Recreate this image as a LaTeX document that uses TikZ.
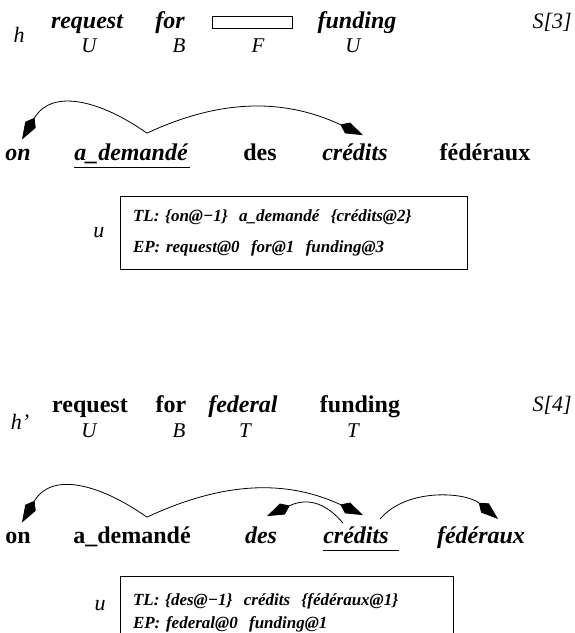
\documentclass[tikz,border=0pt]{standalone}
\usepackage{fontspec}
\setmainfont{Liberation Serif}
\usetikzlibrary{positioning}
\usetikzlibrary{arrows.meta,calc}

\begin{document}
\begin{tikzpicture}[x=1pt,y=1pt,
        wrd/.style={inner sep=0pt, anchor=base, font=\fontsize{24}{28}\selectfont\bfseries},
        iwrd/.style={wrd, font=\fontsize{24}{28}\selectfont\bfseries\itshape},
        lab/.style={inner sep=0pt, anchor=base, font=\fontsize{21}{25}\selectfont\itshape},
        tag/.style={lab, font=\fontsize{22}{26}\selectfont\itshape},
        dep/.style={line width=0.8pt, -{Kite[length=25pt,width=12pt,inset=8pt]}},
        unit/.style={draw, line width=0.8pt, minimum height=73pt,
            inner xsep=13pt, text width=321pt, align=left,
            font=\fontsize{17}{31}\selectfont\bfseries\itshape},]

    \clip (0,0) rectangle (574,-633);

    % hypothesis h, state S[3]
    \node[tag] (h1) at (19,-42) {h};
    \node[iwrd] (req1) at (87,-28) {request};
    \node[iwrd] (for1) at (170,-28) {for};
    \node[draw, line width=0.8pt, minimum width=80pt, minimum height=12pt, inner sep=0pt] (gap1) at (252,-22) {};
    \node[iwrd] (fund1) at (357,-28) {funding};
    \node[tag, anchor=base east] (s3) at (572,-28) {S[3]};
    \node[lab] (st1) at (89,-52) {U};
    \node[lab] (st2) at (179,-52) {B};
    \node[lab] (st3) at (258,-52) {F};
    \node[lab] (st4) at (353,-52) {U};

    % source sentence, a_demand\'e is the head
    \node[iwrd] (on1) at (18,-160) {on};
    \node[iwrd] (ad1) at (131,-160) {a\_demandé};
    \node[wrd] (des1) at (260,-160) {des};
    \node[iwrd] (cr1) at (355,-160) {crédits};
    \node[wrd] (fed1) at (485,-160) {fédéraux};
    \draw[line width=0.8pt] ([yshift=-7pt]ad1.base west) -- ([xshift=2pt,yshift=-7pt]ad1.base east);

    \draw[dep] ([xshift=16pt,yshift=10pt]ad1.north) to[out=145,in=60,looseness=1.2] ([xshift=4pt,yshift=9pt]on1.north);
    \draw[dep] ([xshift=16pt,yshift=10pt]ad1.north) to[out=25,in=155] ([xshift=8pt,yshift=8pt]cr1.north);

    \node[unit, minimum width=347pt] (ep1) at (293.5,-232.5) {TL: \{on@−1\}~~a\_demandé~~\{crédits@2\}\\EP: request@0~~for@1~~funding@3};
    \node[tag, left=15pt of ep1] (u1) {u};

    % hypothesis h', state S[4]
    \node[tag] (h2) at (20,-429) {h’};
    \node[wrd] (req2) at (90,-412) {request};
    \node[wrd] (for2) at (171,-412) {for};
    \node[iwrd] (fedr2) at (243,-412) {federal};
    \node[wrd] (fund2) at (360,-412) {funding};
    \node[tag, anchor=base east] (s4) at (572,-411) {S[4]};
    \node[lab] (st5) at (89,-437) {U};
    \node[lab] (st6) at (179,-437) {B};
    \node[lab] (st7) at (245,-437) {T};
    \node[lab] (st8) at (353,-437) {T};

    % source sentence, cr\'edits is the head
    \node[wrd] (on2) at (18,-543) {on};
    \node[wrd] (ad2) at (132,-543) {a\_demandé};
    \node[iwrd] (des2) at (261,-543) {des};
    \node[iwrd] (cr2) at (356,-543) {crédits};
    \node[iwrd] (fed2) at (481,-543) {fédéraux};
    \draw[line width=0.8pt] ([yshift=-7pt]cr2.base west) -- ([xshift=10pt,yshift=-7pt]cr2.base east);

    \draw[dep] ([xshift=15pt,yshift=9pt]ad2.north) to[out=145,in=60,looseness=1.2] ([xshift=4pt,yshift=9pt]on2.north);
    \draw[dep] ([xshift=15pt,yshift=9pt]ad2.north) to[out=25,in=155] ([xshift=7pt,yshift=11pt]cr2.north);
    \draw[dep] ([xshift=-13pt,yshift=3pt]cr2.north) to[out=130,in=25,looseness=1.2] ([xshift=6pt,yshift=10pt]des2.north);
    \draw[dep] ([xshift=24pt,yshift=7pt]cr2.north) to[out=50,in=140,looseness=0.9] ([xshift=17pt,yshift=7pt]fed2.north);

    \node[unit, anchor=north, minimum width=333pt, text width=307pt, inner ysep=4pt,
        font=\fontsize{17}{23}\selectfont\bfseries\itshape] (ep2) at (286.5,-576) {TL: \{des@−1\}~~crédits~~\{fédéraux@1\}\\EP: federal@0~~funding@1};
    \node[tag, anchor=center] (u2) at (100,-606) {u};
\end{tikzpicture}
\end{document}
